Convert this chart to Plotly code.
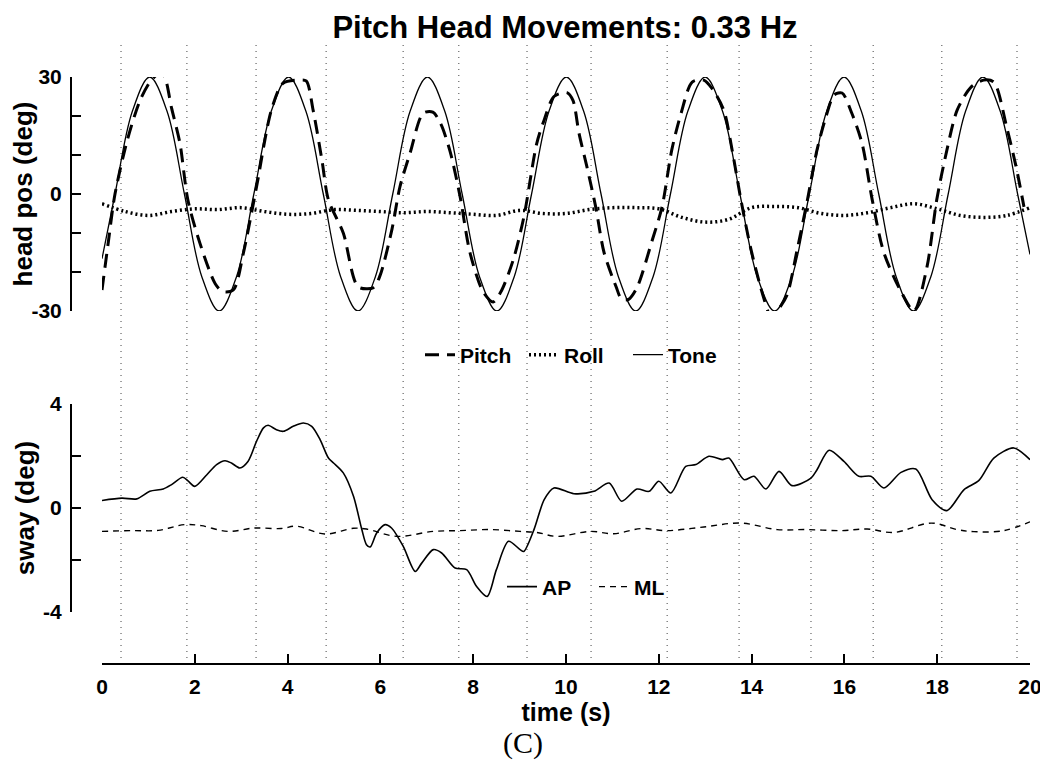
import plotly.graph_objects as go

# ---------------- data ----------------
tone_t = [0, 0.28, 0.654, 1.028, 1.402, 1.776, 2.151, 2.525, 2.899, 3.273, 3.647, 4.021, 4.395,
          4.769, 5.143, 5.517, 5.892, 6.266, 6.640, 7.014, 7.388, 7.762, 8.136, 8.510, 8.884,
          9.258, 9.633, 10.007, 10.381, 10.755, 11.129, 11.503, 11.877, 12.251, 12.625, 12.999,
          13.374, 13.748, 14.122, 14.496, 14.870, 15.244, 15.618, 15.992, 16.366, 16.740, 17.115,
          17.489, 17.863, 18.237, 18.611, 18.985, 19.359, 19.733, 20.0]
tone_v = [-16.6,
          0, 21.2, 30, 21.2, 0, -21.2, -30, -21.2,
          0, 21.2, 30, 21.2, 0, -21.2, -30, -21.2,
          0, 21.2, 30, 21.2, 0, -21.2, -30, -21.2,
          0, 21.2, 30, 21.2, 0, -21.2, -30, -21.2,
          0, 21.2, 30, 21.2, 0, -21.2, -30, -21.2,
          0, 21.2, 30, 21.2, 0, -21.2, -30, -21.2,
          0, 21.2, 30, 21.2, 0,
          -15.5]

pitch_t = [0, 0.14, 0.28, 0.55, 0.82, 1.05, 1.25, 1.35, 1.5, 1.68, 1.85, 2.11, 2.44, 2.6, 2.83,
           3.05, 3.33, 3.65, 3.9, 4.23, 4.4, 4.55, 4.74, 4.88, 5.2, 5.52, 5.85, 5.99, 6.25, 6.42,
           6.64, 6.92, 7.13, 7.3, 7.5, 7.72, 7.93, 8.21, 8.43, 8.6, 8.86, 9.09, 9.37, 9.53, 9.74,
           10.02, 10.15, 10.28, 10.45, 10.64, 10.82, 11.08, 11.2, 11.35, 11.53, 11.86, 12.07,
           12.28, 12.48, 12.72, 12.97, 13.15, 13.4, 13.58, 13.77, 13.99, 14.27, 14.42, 14.55,
           14.76, 14.98, 15.19, 15.41, 15.6, 15.78, 15.95, 16.16, 16.38, 16.6, 16.85, 17.22,
           17.5, 17.78, 17.99, 18.21, 18.43, 18.73, 19.0, 19.22, 19.5, 19.7, 19.87]
pitch_v = [-24.6, -12, 0, 14, 24, 29, 31, 30, 22, 13, -1.5, -12.6, -23, -25, -24.6,
           -15, 1.8, 21.5, 28.4, 29.2, 29, 21.5, 8.7, -1.5, -10, -23.8, -24, -21, -9, 1.8,
           10.5, 20.7, 21, 18, 11, -0.8, -15, -25, -27.7, -25, -17, -6, 13, 19, 25,
           26, 24, 15.6, 7, -3.3, -15, -23.8, -27, -27, -24, -11.8, -3.3,
           11.3, 20.7, 28.7, 29.2, 27, 21.5, 11.3, -1.5, -14.4, -27, -31.5, -30,
           -26, -14.4, -2.3, 11.3, 19.7, 25.4, 25.9, 20.7, 13, -1.5, -15, -25,
           -30, -18.7, -1.5, 11.3, 21.5, 27.4, 29.2, 28.7, 17, 7, -3.3]

roll_t = [0, 0.5, 1.0, 1.5, 2.0, 2.5, 3.0, 3.5, 4.0, 4.5, 5.0, 5.5, 6.0, 6.5, 7.0, 7.5, 8.0,
          8.5, 9.0, 9.5, 10.0, 10.5, 11.0, 11.5, 12.0, 12.5, 13.0, 13.5, 14.0, 14.5, 15.0,
          15.5, 16.0, 16.5, 17.0, 17.5, 18.0, 18.5, 19.0, 19.5, 20.0]
roll_v = [-2.5, -4.5, -5.5, -4.5, -3.8, -4.0, -3.5, -4.5, -5.2, -5.0, -4.0, -4.2, -4.5, -4.8,
          -4.5, -4.8, -5.2, -5.5, -4.2, -5.0, -5.0, -4.0, -3.5, -3.5, -3.8, -6.0, -7.2, -6.5,
          -3.5, -3.2, -3.5, -5.0, -5.5, -4.8, -3.5, -2.5, -3.8, -5.5, -6.0, -5.5, -3.5]

ap_t = [0.0, 0.43, 0.75, 1.03, 1.32, 1.5, 1.74, 1.86, 2.0, 2.26, 2.47, 2.65, 2.79, 2.97, 3.15,
        3.33, 3.48, 3.58, 3.76, 3.91, 4.12, 4.34, 4.52, 4.7, 4.88, 4.99, 5.2, 5.42, 5.6, 5.7,
        5.78, 5.92, 6.1, 6.24, 6.49, 6.75, 6.89, 7.14, 7.32, 7.61, 7.86, 8.07, 8.3, 8.5, 8.76,
        9.01, 9.09, 9.31, 9.53, 9.74, 10.17, 10.6, 10.93, 11.2, 11.53, 11.79, 12.0, 12.26,
        12.58, 12.8, 13.08, 13.37, 13.51, 13.84, 14.05, 14.31, 14.59, 14.87, 15.28, 15.41,
        15.67, 15.99, 16.31, 16.57, 16.85, 17.22, 17.54, 17.89, 18.21, 18.58, 18.9, 19.22,
        19.65, 20.0]
ap_v = [0.29, 0.38, 0.35, 0.64, 0.73, 0.9, 1.18, 1.03, 0.83, 1.28, 1.67, 1.82, 1.73, 1.54, 1.8,
        2.56, 3.08, 3.18, 3.01, 2.95, 3.14, 3.27, 3.14, 2.63, 1.92, 1.73, 1.35, 0.45, -0.83, -1.41,
        -1.5, -0.96, -0.64, -0.77, -1.47, -2.44, -2.12, -1.6, -1.73, -2.31, -2.37, -3.01, -3.4,
        -2.37, -1.28, -1.6, -1.67, -0.83, 0.32, 0.77, 0.55, 0.64, 0.96, 0.26, 0.73, 0.64, 1.03,
        0.58, 1.6, 1.67, 1.99, 1.86, 1.92, 1.09, 1.22, 0.73, 1.41, 0.86, 1.15, 1.47, 2.22, 1.79,
        1.22, 1.22, 0.77, 1.37, 1.5, 0.32, -0.1, 0.71, 1.06, 1.92, 2.31, 1.86]

ml_t = [0, 0.64, 1.21, 1.78, 2.14, 2.71, 3.29, 3.86, 4.2, 4.8, 5.42, 5.7, 6.35, 7.14, 7.72,
        8.36, 9.01, 9.37, 9.8, 10.53, 11.03, 11.62, 12.18, 12.97, 13.77, 14.55, 15.19, 15.93,
        16.49, 17.07, 17.87, 18.43, 18.79, 19.44, 20.0]
ml_v = [-0.9, -0.87, -0.86, -0.64, -0.68, -0.9, -0.77, -0.79, -0.7, -1.0, -0.78, -0.81, -1.09,
        -0.9, -0.87, -0.83, -0.9, -0.94, -1.09, -0.9, -0.99, -0.79, -0.87, -0.73, -0.58, -0.83,
        -0.83, -0.87, -0.81, -0.94, -0.58, -0.83, -0.91, -0.87, -0.53]

marker_times = [0.41, 1.83, 3.32, 4.83, 6.49, 7.69, 9.16, 10.54, 12.18, 13.73, 15.28,
                16.62, 18.10, 19.72]

top_ticks = [-30, -20, -10, 0, 10, 20, 30]
top_ticklabels = ["-30", "", "", "0", "", "", "30"]
bot_ticks = [-4, -2, 0, 2, 4]
bot_ticklabels = ["-4", "", "0", "", "4"]
x_ticks = [0, 2, 4, 6, 8, 10, 12, 14, 16, 18, 20]

# ---------------- figure ----------------
OFF = 8                       # page body margin
W, H = 1048 - OFF, 762 - OFF  # figure size
FONT = "Liberation Sans, Arial, sans-serif"


def px(xp):
    return (xp - OFF) / W


def py(yp):
    return 1 - (yp - OFF) / H


fig = go.Figure()

fig.add_trace(go.Scatter(x=pitch_t, y=pitch_v, name="Pitch", mode="lines", xaxis="x", yaxis="y",
                         line=dict(color="black", width=3, dash="14px,8px", shape="spline", smoothing=0.8),
                         legend="legend"))
fig.add_trace(go.Scatter(x=roll_t, y=roll_v, name="Roll", mode="lines", xaxis="x", yaxis="y",
                         line=dict(color="black", width=3.5, dash="2px,3px", shape="spline", smoothing=1),
                         legend="legend"))
fig.add_trace(go.Scatter(x=tone_t, y=tone_v, name="Tone", mode="lines", xaxis="x", yaxis="y",
                         line=dict(color="black", width=1.3, shape="spline", smoothing=1),
                         legend="legend"))
fig.add_trace(go.Scatter(x=ap_t, y=ap_v, name="AP", mode="lines", xaxis="x", yaxis="y2",
                         line=dict(color="black", width=1.6, shape="spline", smoothing=0.8),
                         legend="legend2"))
fig.add_trace(go.Scatter(x=ml_t, y=ml_v, name="ML", mode="lines", xaxis="x", yaxis="y2",
                         line=dict(color="black", width=1.4, dash="6px,5px", shape="spline", smoothing=1),
                         legend="legend2"))

for t in marker_times:
    fig.add_shape(type="line", xref="x", yref="paper", x0=t, x1=t,
                  y0=py(658), y1=py(43),
                  line=dict(color="#444444", width=1, dash="1px,5px"), layer="below")

xdom = [px(102), px(1030)]
ypos = px(71)
tickfont = dict(family=FONT, size=21, color="black", weight="bold")
xtitlefont = dict(family=FONT, size=25, color="black", weight="bold")
ytitlefont = dict(family=FONT, size=26, color="black", weight="bold")

fig.update_layout(
    width=W, height=H,
    margin=dict(l=0, r=0, t=0, b=0, autoexpand=False),
    paper_bgcolor="white", plot_bgcolor="white",
    title=dict(text="Pitch Head Movements: 0.33 Hz", x=px(565), y=py(27),
               xanchor="center", yanchor="middle", xref="paper", yref="paper",
               automargin=False,
               font=dict(family=FONT, size=31, color="black", weight="bold")),
    xaxis=dict(domain=xdom, range=[0, 20], anchor="free", position=py(664),
               automargin=False,
               showline=True, linecolor="black", linewidth=2, ticks="inside", ticklen=9,
               tickwidth=1.5, tickcolor="black", tickvals=x_ticks, tickfont=tickfont,
               showgrid=False, zeroline=False, ticklabelstandoff=4,
               title=dict(text="time (s)", font=xtitlefont, standoff=4)),
    yaxis=dict(domain=[py(311), py(77)], range=[-30, 30], anchor="free", position=ypos,
               automargin=False,
               showline=True, linecolor="black", linewidth=2, ticks="inside", ticklen=9,
               tickwidth=1.5, tickcolor="black", tickvals=top_ticks, ticktext=top_ticklabels,
               tickfont=tickfont, showgrid=False, zeroline=False, ticklabelstandoff=4,
               title=dict(text="head pos (deg)", font=ytitlefont, standoff=0)),
    yaxis2=dict(domain=[py(612), py(404)], range=[-4, 4], anchor="free", position=ypos,
                automargin=False,
                showline=True, linecolor="black", linewidth=2, ticks="inside", ticklen=9,
                tickwidth=1.5, tickcolor="black", tickvals=bot_ticks, ticktext=bot_ticklabels,
                tickfont=tickfont, showgrid=False, zeroline=False, ticklabelstandoff=4,
                title=dict(text="sway (deg)", font=ytitlefont, standoff=0)),
    legend=dict(orientation="h", x=px(420), y=py(355), xanchor="left", yanchor="middle",
                bgcolor="rgba(0,0,0,0)", borderwidth=0, entrywidth=59, entrywidthmode="pixels",
                font=dict(family=FONT, size=21, color="black", weight="bold")),
    legend2=dict(orientation="h", x=px(502), y=py(587), xanchor="left", yanchor="middle",
                 bgcolor="rgba(0,0,0,0)", borderwidth=0, entrywidth=47, entrywidthmode="pixels",
                 font=dict(family=FONT, size=21, color="black", weight="bold")),
    annotations=[dict(text="(C)", x=px(523), y=py(743), xref="paper", yref="paper",
                      showarrow=False, xanchor="center", yanchor="middle",
                      font=dict(family="Liberation Serif, Times New Roman, serif", size=30, color="black"))],
)

fig.write_html("out.html")
